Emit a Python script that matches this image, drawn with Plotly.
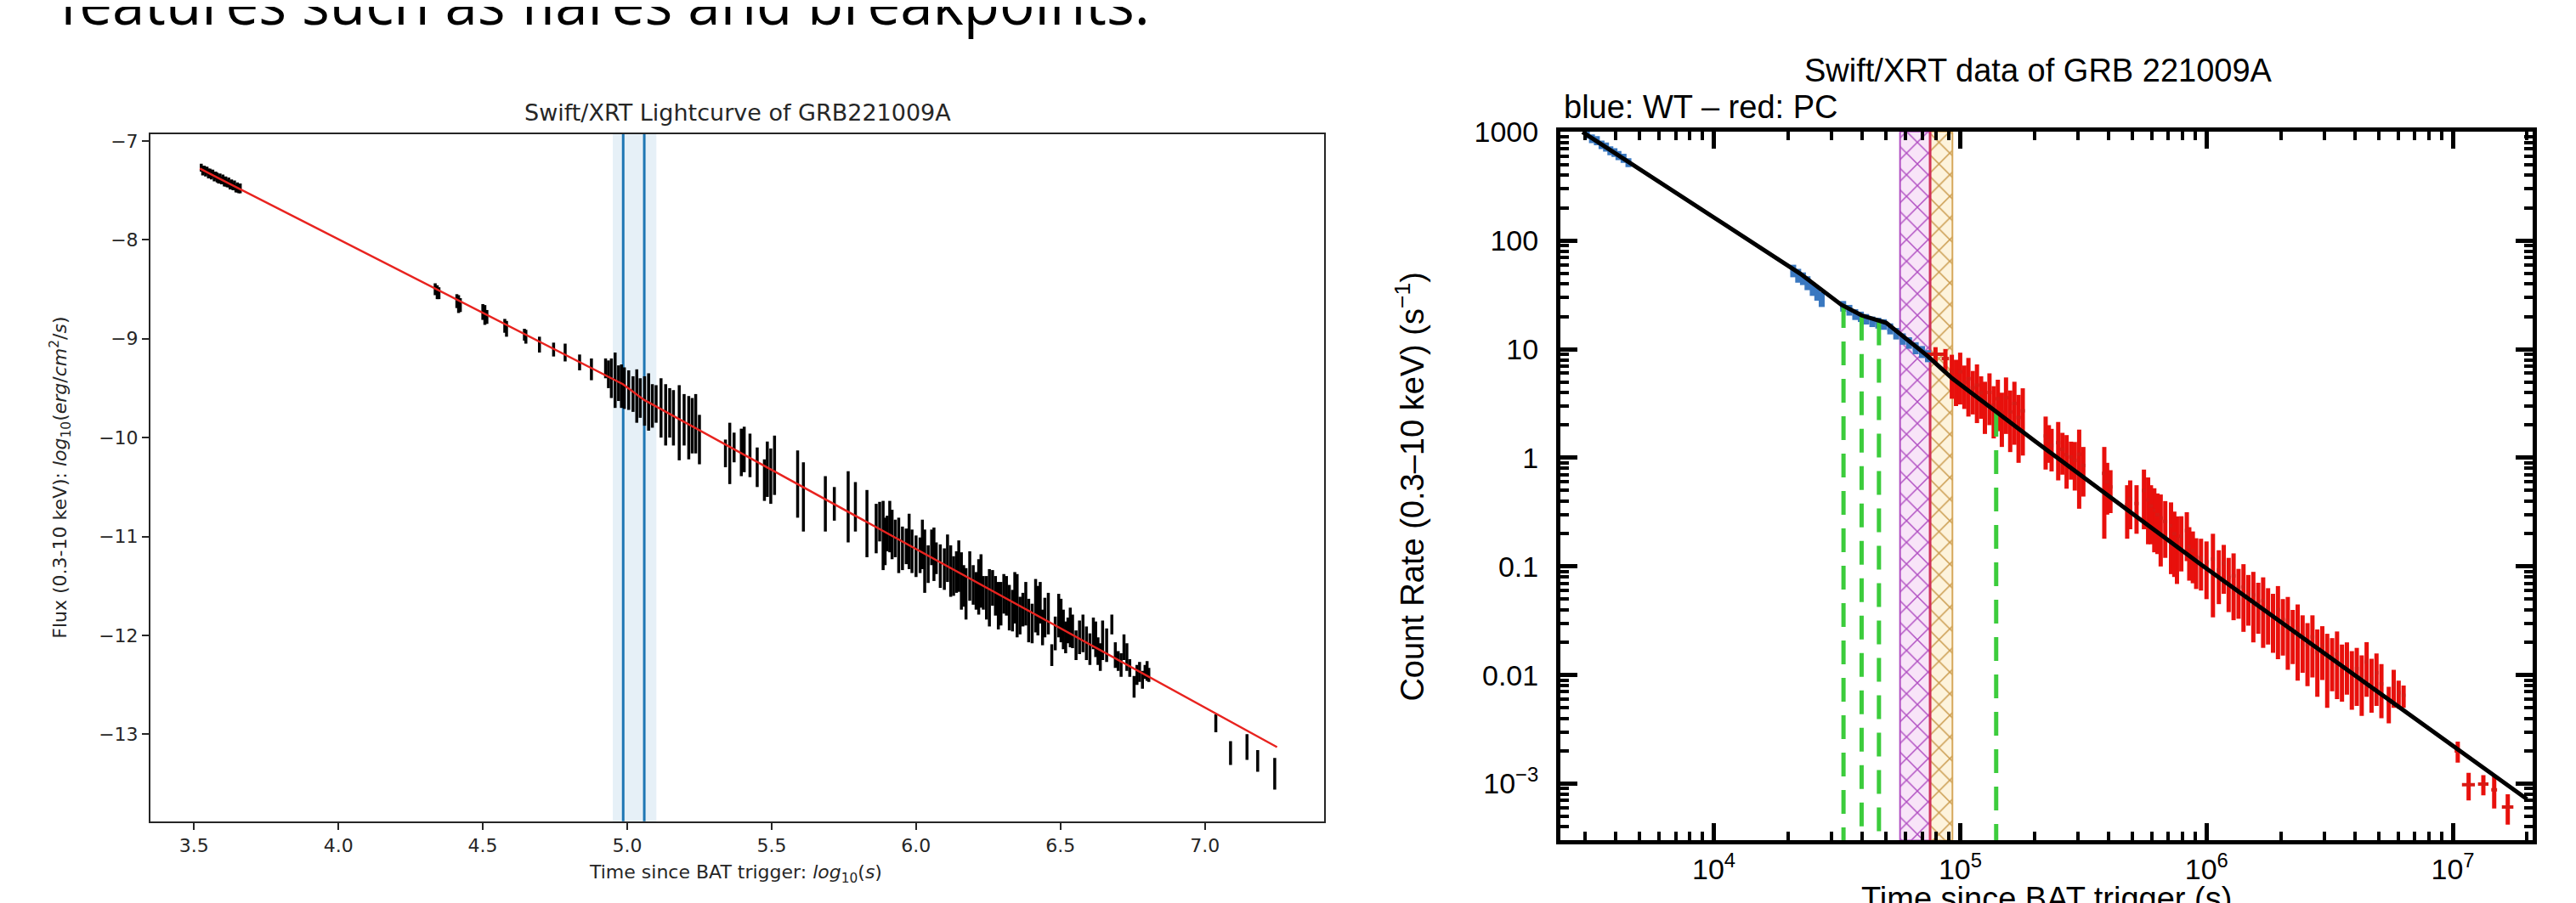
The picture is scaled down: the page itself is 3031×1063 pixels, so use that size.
import plotly.graph_objects as go

W, H = 3031, 1063

# ================= Left panel: Swift/XRT lightcurve (log10 time, log10 flux) =================
seg1_logt = [3.525, 3.53, 3.535, 3.54, 3.545, 3.55, 3.555, 3.56, 3.565, 3.57, 3.575, 3.58, 3.585, 3.59,
             3.595, 3.60, 3.605, 3.61, 3.615, 3.62, 3.625, 3.63, 3.635, 3.64, 3.645, 3.65, 3.655, 3.66]
seg1_logf = [-7.27, -7.30, -7.29, -7.31, -7.30, -7.33, -7.32, -7.34, -7.33, -7.36, -7.35, -7.37, -7.39, -7.38,
             -7.40, -7.39, -7.42, -7.41, -7.43, -7.42, -7.45, -7.44, -7.46, -7.45, -7.48, -7.47, -7.49, -7.48]
seg1_err = [0.04, 0.05] * 14

seg2_logt = [4.335, 4.342, 4.348, 4.410, 4.416, 4.422, 4.500, 4.507, 4.514, 4.576, 4.582, 4.644, 4.649,
             4.696, 4.745, 4.785, 4.835, 4.876]
seg2_logf = [-8.50, -8.53, -8.54, -8.62, -8.65, -8.66, -8.73, -8.76, -8.78, -8.87, -8.90, -8.96, -8.98,
             -9.06, -9.11, -9.14, -9.24, -9.31]
seg2_err = [0.06, 0.07, 0.06, 0.07, 0.09, 0.07, 0.08, 0.10, 0.07, 0.07, 0.08, 0.06, 0.07,
            0.08, 0.07, 0.09, 0.08, 0.11]

seg3_logt = [4.925, 4.935, 4.945, 4.958, 4.97, 4.98, 4.99, 5.005, 5.02, 5.033, 5.045, 5.06, 5.074, 5.087,
             5.10, 5.117, 5.133, 5.147, 5.16, 5.18, 5.197, 5.213, 5.225, 5.237, 5.25]
seg3_logf = [-9.30, -9.36, -9.40, -9.42, -9.45, -9.48, -9.50, -9.52, -9.56, -9.58, -9.60, -9.63, -9.64, -9.68,
             -9.66, -9.70, -9.77, -9.75, -9.80, -9.85, -9.82, -9.90, -9.88, -9.86, -10.02]
seg3_err = [0.10, 0.14, 0.20, 0.28, 0.18, 0.22, 0.21, 0.20, 0.18, 0.27, 0.20, 0.25, 0.29, 0.22,
            0.19, 0.30, 0.31, 0.25, 0.28, 0.38, 0.26, 0.32, 0.28, 0.30, 0.25]

seg4_logt = [5.34, 5.355, 5.37, 5.395, 5.405, 5.425, 5.45, 5.475, 5.485, 5.497, 5.51,
             5.59, 5.61, 5.686, 5.717, 5.765, 5.79, 5.83]
seg4_logf = [-10.16, -10.16, -10.10, -10.15, -10.12, -10.18, -10.30, -10.43, -10.32, -10.39, -10.28,
             -10.47, -10.60, -10.67, -10.67, -10.70, -10.70, -10.87]
seg4_err = [0.14, 0.31, 0.15, 0.24, 0.23, 0.22, 0.20, 0.21, 0.28, 0.28, 0.30,
            0.34, 0.35, 0.28, 0.17, 0.36, 0.25, 0.34]

seg5_logt = [5.862, 5.886, 5.90, 5.917, 5.94, 5.966, 5.986, 6.014, 6.03, 6.054, 6.07, 6.098, 6.12, 6.14,
             6.157, 6.173, 6.198, 6.217, 6.233, 6.254, 6.275, 6.294, 6.313, 6.334, 6.35, 6.37, 6.39, 6.414,
             6.43, 6.446, 6.47, 6.494, 6.51, 6.526, 6.542, 6.566, 6.59, 6.614, 6.63, 6.646, 6.678, 6.70,
             6.72, 6.74, 6.755, 6.774, 6.793, 6.806]
seg5_logf = [-10.92, -10.99, -10.97, -10.98, -11.09, -11.10, -11.15, -11.19, -11.25, -11.11, -11.22, -11.33,
             -11.35, -11.36, -11.45, -11.58, -11.49, -11.51, -11.57, -11.62, -11.60, -11.68, -11.60, -11.75,
             -11.70, -11.74, -11.85, -11.70, -11.67, -11.82, -12.20, -11.80, -11.94, -11.95, -11.96, -12.02,
             -12.08, -11.98, -12.16, -12.05, -11.89, -12.26, -12.12, -12.33, -12.52, -12.37, -12.37, -12.40]
seg5_err = [0.25, 0.35, 0.18, 0.25, 0.28, 0.18, 0.22, 0.18, 0.32, 0.18, 0.16, 0.21, 0.26, 0.21, 0.29,
            0.26, 0.20, 0.28, 0.17, 0.29, 0.20, 0.22, 0.20, 0.21, 0.32, 0.17, 0.22, 0.27, 0.21, 0.20,
            0.11, 0.22, 0.20, 0.13, 0.17, 0.17, 0.17, 0.16, 0.14, 0.20, 0.10, 0.10, 0.13, 0.09, 0.11,
            0.10, 0.07, 0.07]

seg5b_logt = [5.874, 5.893, 5.909, 5.928, 5.953, 5.976, 6.0, 6.022, 6.042, 6.062, 6.084, 6.109, 6.13, 6.148,
              6.165, 6.186, 6.208, 6.225, 6.244, 6.265, 6.285, 6.304, 6.323, 6.342, 6.36, 6.38, 6.402, 6.422,
              6.438, 6.458, 6.482, 6.502, 6.518, 6.534, 6.554, 6.578, 6.602, 6.622, 6.638, 6.66, 6.69, 6.71,
              6.73, 6.765, 6.784, 6.80]
seg5b_logf = [-10.85, -11.05, -10.90, -11.02, -11.12, -11.05, -11.20, -11.08, -11.28, -11.18, -11.30, -11.22,
              -11.40, -11.30, -11.50, -11.40, -11.55, -11.45, -11.62, -11.52, -11.70, -11.58, -11.72, -11.62,
              -11.80, -11.68, -11.88, -11.75, -11.92, -11.78, -11.98, -11.85, -12.02, -11.92, -12.10, -11.98,
              -12.14, -12.04, -12.22, -12.10, -12.20, -12.30, -12.22, -12.40, -12.45, -12.36]
seg5b_err = [0.20, 0.24, 0.26, 0.19, 0.22, 0.28, 0.21, 0.25, 0.19, 0.27, 0.22, 0.24, 0.20, 0.26, 0.21,
             0.25, 0.19, 0.27, 0.22, 0.18, 0.24, 0.20, 0.23, 0.26, 0.19, 0.22, 0.20, 0.25, 0.18, 0.21,
             0.17, 0.22, 0.16, 0.20, 0.15, 0.19, 0.16, 0.18, 0.14, 0.17, 0.13, 0.12, 0.14, 0.10, 0.09, 0.10]

seg6_logt = [7.038, 7.089, 7.146, 7.183, 7.242]
seg6_logf = [-12.89, -13.19, -13.13, -13.27, -13.40]
seg6_err = [0.09, 0.12, 0.13, 0.11, 0.16]

fit_logt = [3.52, 4.985, 5.059, 7.25]
fit_logflux = [-7.28, -9.46, -9.62, -13.13]

break_logt = [4.986, 5.059]
break_band_lo = [4.950, 5.022]
break_band_hi = [5.022, 5.101]

left_xticks = [3.5, 4.0, 4.5, 5.0, 5.5, 6.0, 6.5, 7.0]
left_yticks = [-13, -12, -11, -10, -9, -8, -7]

# ================= Right panel: count-rate light curve =================
wt_t = [3050, 3200, 3350, 3500, 3650, 3800, 3950, 4100, 4300, 4500,
        21000, 22000, 23000, 24000, 25200, 26300, 27400,
        33500, 35500, 37500, 39500, 41500, 44000, 46500, 49000, 52000, 55000, 58500, 62000, 66000, 70000, 74000]
wt_rate = [960, 870, 835, 765, 730, 675, 650, 610, 575, 525,
           53, 48, 45, 41, 36, 33, 29,
           25, 23, 21, 20, 19, 18, 17.5, 17, 15.5, 14, 12.5, 11.5, 10.3, 9.5, 8.7]
wt_err = [90, 80, 80, 70, 70, 65, 60, 58, 55, 50,
          7, 7, 6, 6, 5, 5, 4.5,
          2.8, 2.6, 2.4, 2.2, 2.1, 2, 2, 1.9, 1.8, 1.7, 1.5, 1.4, 1.3, 1.2, 1.1]
wt_terr = [75, 75, 75, 75, 75, 75, 75, 75, 100, 100,
           500, 500, 500, 500, 550, 550, 550,
           900, 900, 900, 1000, 1000, 1200, 1200, 1200, 1400, 1400, 1600, 1600, 1800, 1800, 1800]

pc_t = [79400, 87100, 92500, 96200, 100000, 104000, 108000, 112500, 117000, 121600, 126000, 131500, 136800,
        142200, 147600, 153500, 159600, 166000, 172600, 179500,
        222300, 229100, 250000, 270400, 281800, 304100, 316200,
        384600, 407400, 476400, 557200, 579400, 613800, 651600, 717800, 758600,
        831800, 851100, 907800, 1.0e6, 1.062e6,
        1.122e6, 1.175e6, 1.230e6, 1.288e6, 1.349e6, 1.413e6, 1.479e6, 1.549e6, 1.622e6, 1.698e6, 1.778e6,
        1.862e6, 1.950e6, 2.042e6, 2.138e6,
        2.239e6, 2.344e6, 2.455e6, 2.570e6, 2.692e6, 2.818e6, 2.951e6, 3.090e6, 3.236e6, 3.388e6, 3.548e6,
        3.715e6, 3.890e6, 4.074e6, 4.266e6, 4.467e6, 4.677e6, 4.898e6, 5.129e6,
        5.495e6, 5.754e6, 6.026e6, 6.310e6,
        1.047e7, 1.159e7, 1.330e7, 1.472e7, 1.671e7]
pc_rate = [9.0, 8.2, 6.2, 5.5, 6.2, 4.95, 5.36, 4.41, 4.67, 3.96, 3.34, 4.0, 3.04, 3.5, 2.62, 3.58, 2.65, 3.17,
           2.35, 2.71,
           1.59, 1.45, 1.38, 1.07, 1.02, 1.08, 0.85,
           0.72, 0.54, 0.37, 0.50, 0.41, 0.33, 0.28, 0.237, 0.179,
           0.214, 0.152, 0.122, 0.11, 0.117,
           0.093, 0.107, 0.079, 0.082, 0.064, 0.065, 0.056, 0.0546, 0.0474, 0.0486, 0.0411, 0.036, 0.040,
           0.0326, 0.0318,
           0.0262, 0.0268, 0.023, 0.019, 0.0225, 0.0163, 0.0186, 0.0145, 0.0145, 0.0156, 0.0124, 0.0133,
           0.0107, 0.0115, 0.0097, 0.0132, 0.0093, 0.0105, 0.0083,
           0.0057, 0.0081, 0.0069, 0.0065,
           0.0020, 0.00098, 0.00099, 0.00088, 0.00061]
pc_err = [1.45, 1.85, 2.7, 2.5, 3.1, 2.13, 2.96, 1.9, 2.58, 1.67, 1.68, 2.0, 1.53, 1.74, 1.36, 1.92, 1.52, 1.85,
          1.45, 1.66,
          0.81, 0.55, 0.76, 0.55, 0.39, 0.74, 0.41,
          0.54, 0.23, 0.19, 0.28, 0.25, 0.195, 0.18, 0.152, 0.11,
          0.102, 0.078, 0.06, 0.06, 0.083,
          0.048, 0.051, 0.041, 0.050, 0.031, 0.040, 0.0275, 0.0346, 0.0234, 0.0308, 0.022, 0.020, 0.026,
          0.0175, 0.0206,
          0.0136, 0.0179, 0.0125, 0.0111, 0.013, 0.01, 0.0096, 0.0095, 0.0074, 0.0096, 0.0067, 0.0067,
          0.0059, 0.0063, 0.0055, 0.0069, 0.0048, 0.0053, 0.0043,
          0.0021, 0.0031, 0.002, 0.0015,
          0.00044, 0.00028, 0.00021, 0.00029, 0.00019]
pc_terr = [8000, 3000, 1800, 1800, 2000, 2000, 2100, 2200, 2300, 2400, 2500, 2600, 2700, 2800, 2900, 3000,
           3100, 3300, 3400, 3500,
           4000, 4000, 5000, 5000, 5000, 6000, 6000,
           8000, 8000, 9000, 10000, 10000, 11000, 12000, 13000, 14000,
           15000, 15000, 16000, 18000, 19000,
           20000, 21000, 22000, 23000, 24000, 25000, 26000, 27000, 28000, 29000, 30000, 31000, 33000, 35000,
           37000,
           39000, 41000, 43000, 45000, 47000, 49000, 52000, 54000, 57000, 59000, 62000, 65000, 68000, 71000,
           75000, 78000, 82000, 86000, 90000,
           95000, 100000, 105000, 110000,
           300000, 700000, 650000, 400000, 900000]

# extra PC bins in the 2e5 - 1e6 s stretch
pc2_t = [235000, 260000, 292000, 395000, 490000, 520000, 595000, 632000, 680000, 740000, 790000, 880000, 950000]
pc2_rate = [1.30, 1.20, 0.95, 0.60, 0.42, 0.38, 0.36, 0.30, 0.26, 0.20, 0.19, 0.14, 0.12]
pc2_err = [0.55, 0.50, 0.45, 0.30, 0.20, 0.18, 0.20, 0.17, 0.14, 0.12, 0.10, 0.07, 0.06]
pc2_terr = [4000, 5000, 5000, 8000, 9000, 10000, 11000, 12000, 13000, 14000, 15000, 16000, 17000]

fit_t = [2930, 22400, 32900, 39800, 50100, 73600, 92700, 200000, 962000, 6.07e6, 2.0e7]
fit_rate = [1000, 49.7, 25.7, 20.5, 17.5, 8.7, 5.4, 1.44, 0.102, 0.0051, 0.00072]

green_t = [33600, 39800, 46800, 140000]
green_top = [26, 20, 18, 2.6]

band_lo = [57000, 75500]
band_hi = [75500, 93000]
band_edge = ['#b04ec2', '#d6a85c']
band_hatch = ['#b04ec2', '#c89848']
band_bg = ['#f8e4f8', '#fdf3dc']
band_divider_color = '#d0305a'

right_xrange = [3.377, 7.324]
right_yrange = [-3.523, 3.005]
right_xticks = [1e4, 1e5, 1e6, 1e7]
right_xticktext = ['10<sup>4</sup>', '10<sup>5</sup>', '10<sup>6</sup>', '10<sup>7</sup>']
right_yticks = [1e3, 1e2, 10, 1, 0.1, 0.01, 1e-3]
right_yticktext = ['1000', '100', '10', '1', '0.1', '0.01', '10<sup>\u22123</sup>']


def px(x):
    return x / W


def py(y):
    return 1 - y / H


fig = go.Figure()

# ---- left panel ----
for lo, hi in zip(break_band_lo, break_band_hi):
    fig.add_shape(type='rect', xref='x', yref='y domain', x0=lo, x1=hi, y0=0, y1=1,
                  fillcolor='rgba(31,119,180,0.11)', line_width=0, layer='below')
for t in break_logt:
    fig.add_shape(type='line', xref='x', yref='y domain', x0=t, x1=t, y0=0, y1=1,
                  line=dict(color='#1f77b4', width=3), layer='below')

for lt, lf, le in [(seg1_logt, seg1_logf, seg1_err), (seg2_logt, seg2_logf, seg2_err),
                   (seg3_logt, seg3_logf, seg3_err), (seg4_logt, seg4_logf, seg4_err),
                   (seg5_logt, seg5_logf, seg5_err), (seg5b_logt, seg5b_logf, seg5b_err),
                   (seg6_logt, seg6_logf, seg6_err)]:
    fig.add_trace(go.Scatter(x=lt, y=lf, mode='markers', xaxis='x', yaxis='y', showlegend=False,
                             marker=dict(size=1, color='black'),
                             error_y=dict(type='data', array=le, color='black', thickness=3.5, width=0)))

fig.add_trace(go.Scatter(x=fit_logt, y=fit_logflux, mode='lines', xaxis='x', yaxis='y', showlegend=False,
                         line=dict(color='#e8231f', width=2.5)))

# ---- right panel ----
ybot = 10 ** right_yrange[0]
ytop = 10 ** right_yrange[1]
for lo, hi, ec, hc, bg in zip(band_lo, band_hi, band_edge, band_hatch, band_bg):
    fig.add_trace(go.Scatter(x=[lo, hi, hi, lo, lo], y=[ybot, ybot, ytop, ytop, ybot], mode='lines',
                             fill='toself', fillcolor=bg, xaxis='x2', yaxis='y2', showlegend=False,
                             line=dict(color=ec, width=2),
                             fillpattern=dict(shape='x', fgcolor=hc, bgcolor=bg, fgopacity=1,
                                              size=18, solidity=0.16)))
fig.add_trace(go.Scatter(x=[band_hi[0], band_hi[0]], y=[ybot, ytop], mode='lines', xaxis='x2', yaxis='y2',
                         showlegend=False, line=dict(color=band_divider_color, width=3)))

fig.add_trace(go.Scatter(x=wt_t, y=wt_rate, mode='markers', xaxis='x2', yaxis='y2', showlegend=False,
                         marker=dict(size=1, color='#3a78c0'),
                         error_y=dict(type='data', array=wt_err, color='#3a78c0', thickness=7, width=0),
                         error_x=dict(type='data', array=wt_terr, color='#3a78c0', thickness=6, width=0)))
for tt, rr, ee, te in [(pc_t, pc_rate, pc_err, pc_terr), (pc2_t, pc2_rate, pc2_err, pc2_terr)]:
    fig.add_trace(go.Scatter(x=tt, y=rr, mode='markers', xaxis='x2', yaxis='y2', showlegend=False,
                             marker=dict(size=1, color='#e8100c'),
                             error_y=dict(type='data', array=ee, color='#e8100c', thickness=5, width=0),
                             error_x=dict(type='data', array=te, color='#d81a14', thickness=4, width=0)))

for t, top in zip(green_t, green_top):
    fig.add_trace(go.Scatter(x=[t, t], y=[top, ybot], mode='lines', xaxis='x2', yaxis='y2', showlegend=False,
                             line=dict(color='#3ccc3c', width=5, dash='28px,16px')))

fig.add_trace(go.Scatter(x=fit_t, y=fit_rate, mode='lines', xaxis='x2', yaxis='y2', showlegend=False,
                         line=dict(color='black', width=5)))

minor_vals = [d * 10 ** e for e in range(-4, 8) for d in range(2, 10)]

left_font = dict(family='DejaVu Sans', size=22, color='#262626')
right_font = dict(family='Liberation Sans', size=34, color='black')

fig.update_layout(
    width=W, height=H, margin=dict(l=0, r=0, t=0, b=0),
    paper_bgcolor='white', plot_bgcolor='white', showlegend=False,
    xaxis=dict(domain=[px(169), px(1550)], range=[3.349, 7.413], tickvals=left_xticks, tickformat='.1f',
               ticks='outside', ticklen=8, tickwidth=1.5, tickcolor='#262626', showline=True,
               linecolor='#262626', linewidth=2, mirror=True, showgrid=False, zeroline=False,
               tickfont=left_font, anchor='y'),
    yaxis=dict(domain=[py(957), py(134)], range=[-13.88, -6.93], tickvals=left_yticks,
               ticks='outside', ticklen=8, tickwidth=1.5, tickcolor='#262626', showline=True,
               linecolor='#262626', linewidth=2, mirror=True, showgrid=False, zeroline=False,
               tickfont=left_font, anchor='x'),
    xaxis2=dict(domain=[px(1828), px(2972)], type='log', range=right_xrange, tickvals=right_xticks,
                ticktext=right_xticktext, ticks='inside', ticklen=20, tickwidth=5, tickcolor='black',
                showline=True, linecolor='black', linewidth=5, mirror='allticks', showgrid=False,
                zeroline=False, tickfont=right_font, anchor='y2', ticklabelstandoff=0,
                minor=dict(tickvals=minor_vals, ticks='inside', ticklen=10, tickwidth=4, tickcolor='black',
                           showgrid=False)),
    yaxis2=dict(domain=[py(980), py(131)], type='log', range=right_yrange, tickvals=right_yticks,
                ticktext=right_yticktext, ticks='inside', ticklen=20, tickwidth=5, tickcolor='black',
                showline=True, linecolor='black', linewidth=5, mirror='allticks', showgrid=False,
                zeroline=False, tickfont=right_font, anchor='x2', ticklabelstandoff=14,
                minor=dict(tickvals=minor_vals, ticks='inside', ticklen=10, tickwidth=4, tickcolor='black',
                           showgrid=False)),
)

annotations = [
    dict(text='features such as flares and breakpoints.', x=px(60), y=py(-24), xanchor='left', yanchor='middle',
         font=dict(family='Open Sans', size=69, color='black')),
    dict(text='Swift/XRT Lightcurve of GRB221009A', x=px(860), y=py(108), xanchor='center', yanchor='middle',
         font=dict(family='DejaVu Sans', size=27, color='#262626')),
    dict(text='Time since BAT trigger: <i>log</i><sub>10</sub>(<i>s</i>)', x=px(858), y=py(1020),
         xanchor='center', yanchor='middle', font=left_font),
    dict(text='Flux (0.3-10 keV): <i>log</i><sub>10</sub>(<i>erg</i>/<i>cm</i><sup>2</sup>/<i>s</i>)',
         x=px(63), y=py(546), xanchor='center', yanchor='middle', textangle=-90, font=left_font),
    dict(text='Swift/XRT data of GRB 221009A', x=px(2390), y=py(58), xanchor='center', yanchor='middle',
         font=dict(family='Liberation Sans', size=38, color='black')),
    dict(text='blue: WT \u2013 red: PC', x=px(1830), y=py(102), xanchor='left', yanchor='middle',
         font=dict(family='Liberation Sans', size=38, color='black')),
    dict(text='Count Rate (0.3\u201310 keV) (s<sup>\u22121</sup>)', x=px(1651), y=py(556), xanchor='center',
         yanchor='middle', textangle=-90, font=dict(family='Liberation Sans', size=38, color='black')),
    dict(text='Time since BAT trigger (s)', x=px(2400), y=py(1026), xanchor='center', yanchor='top',
         font=dict(family='Liberation Sans', size=38, color='black')),
]
for a in annotations:
    a.update(xref='paper', yref='paper', showarrow=False)
fig.update_layout(annotations=annotations)

fig.write_html("out.html")
